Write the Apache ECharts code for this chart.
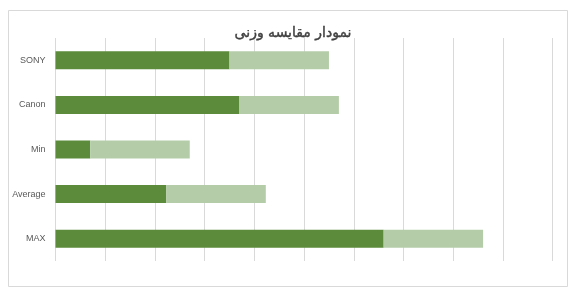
<!DOCTYPE html>
<html>
<head>
<meta charset="utf-8">
<script src="https://cdn.jsdelivr.net/npm/echarts@6/dist/echarts.min.js"></script>
<style>
html,body{margin:0;padding:0;background:#fff;}
#c{width:578px;height:299px;}
</style>
</head>
<body>
<div id="c"></div>
<script>
var titleText = 'نمودار مقایسه وزنی';
var categories = ['SONY', 'Canon', 'Min', 'Average', 'MAX'];
var darkValues = [3.5, 3.7, 0.7, 2.23, 6.6];
var lightValues = [2.0, 2.0, 2.0, 2.0, 2.0];

var chart = echarts.init(document.getElementById('c'), null, {renderer: 'canvas'});
chart.setOption({
  backgroundColor: '#ffffff',
  animation: false,
  title: {
    text: titleText,
    left: 288,
    top: 21,
    textAlign: 'center',
    textStyle: {fontFamily: 'DejaVu Sans, sans-serif', fontSize: 14, fontWeight: 'normal', color: '#404040',
      textBorderColor: '#404040', textBorderWidth: 0.4}
  },
  graphic: [{
    type: 'rect',
    shape: {x: 8.5, y: 10.5, width: 559, height: 276},
    style: {fill: 'none', stroke: '#d9d9d9', lineWidth: 1},
    silent: true,
    z: -1
  }],
  grid: {left: 55.5, right: 25.3, top: 38, bottom: 38, containLabel: false},
  xAxis: {
    type: 'value',
    min: 0, max: 10, interval: 1,
    axisLabel: {show: false},
    axisLine: {show: false},
    axisTick: {show: false},
    splitLine: {show: true, lineStyle: {color: '#d9d9d9', width: 1}}
  },
  yAxis: {
    type: 'category',
    data: categories,
    inverse: true,
    axisLine: {show: false},
    axisTick: {show: false},
    axisLabel: {color: '#595959', fontSize: 9, fontFamily: 'Liberation Sans, Arial, sans-serif', margin: 10}
  },
  series: [
    {type: 'bar', stack: 'a', data: darkValues, barWidth: 18, itemStyle: {color: '#5b8b3b'}},
    {type: 'bar', stack: 'a', data: lightValues, barWidth: 18, itemStyle: {color: '#b4cda8'}}
  ]
});
</script>
</body>
</html>
